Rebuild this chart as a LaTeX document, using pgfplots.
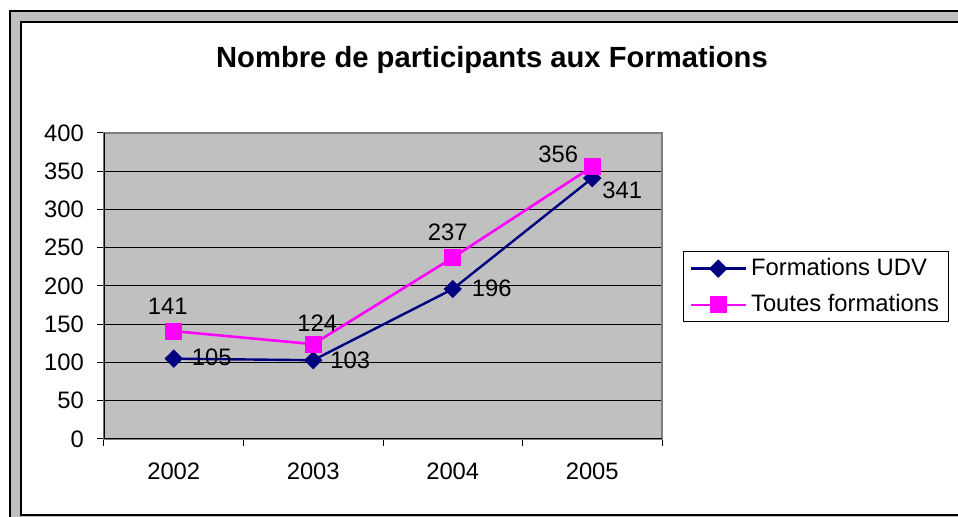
\documentclass[border=0pt]{standalone}
\usepackage{pgfplots}
\pgfplotsset{compat=1.18}
\usepackage{fontspec}
\setmainfont{Liberation Sans}
\definecolor{navyS}{HTML}{000080}
\definecolor{magS}{HTML}{FF00FF}
\definecolor{plotgray}{HTML}{C0C0C0}
\definecolor{bordergray}{HTML}{808080}
\newcommand{\fs}{\fontsize{11.9}{14}\selectfont}
\begin{document}
\begin{tikzpicture}
\useasboundingbox (-52pt,-39pt) rectangle (427pt,219.5pt);
\begin{scope}
\clip (-52pt,-39pt) rectangle (427pt,219.5pt);
\fill[white] (-52pt,-39pt) rectangle (427pt,219.5pt);
\filldraw[fill=plotgray,draw=black,line width=1pt] (-46.75pt,214pt) rectangle (440pt,-60pt);
\filldraw[fill=white,draw=black,line width=1pt] (-41.5pt,208.5pt) rectangle (440pt,-38pt);
\end{scope}
\begin{axis}[
  at={(0,0)}, anchor=south west,
  scale only axis, width=279pt, height=153pt,
  xmin=-0.5, xmax=3.5, ymin=0, ymax=400,
  xtick={-0.5,0.5,1.5,2.5,3.5},
  xticklabels={2002,2003,2004,2005,{}},
  x tick label style={xshift=34.875pt, yshift=-5pt, font=\fs},
  ytick={0,50,...,400},
  y tick label style={xshift=-3pt, font=\fs},
  /pgf/number format/assume math mode=true,
  xtick pos=bottom, ytick pos=left,
  tick align=outside, major tick length=3.5pt,
  tick style={black, line width=0.5pt},
  ymajorgrids, grid style={black, line width=0.5pt},
  axis background/.style={fill=plotgray},
  axis line style={draw=bordergray, line width=1pt},
  title={Nombre de participants aux Formations},
  title style={at={(0.6953,1.1732)}, anchor=base, font=\bfseries\fontsize{14.6}{17}\selectfont},
  legend style={at={(1.0376,0.6144)}, anchor=north west, draw=black, line width=0.5pt, fill=white, font=\fs, row sep=4pt, inner xsep=3pt, inner ysep=1.5pt},
  legend cell align=left,
  legend image code/.code={\draw[mark repeat=2,mark phase=2,#1] plot coordinates {(0pt,0pt) (13.75pt,0pt) (27.5pt,0pt)};},
]
\draw[black, line width=0.6pt] (rel axis cs:0,0) -- (rel axis cs:0,1);
\draw[black, line width=0.6pt] (rel axis cs:0,0) -- (rel axis cs:1,0);
\addplot[color=navyS, line width=1.2pt, mark=square*, mark size=2.65pt, mark options={rotate=45, solid, fill=navyS}]
  coordinates {(0,105) (1,103) (2,196) (3,341)};
\addlegendentry{Formations UDV}
\addplot[color=magS, line width=1.3pt, mark=square*, mark size=3.6pt, mark options={solid, fill=magS}]
  coordinates {(0,141) (1,124) (2,237) (3,356)};
\addlegendentry{Toutes formations}
\node[font=\fs, xshift=19pt, yshift=0.5pt] at (axis cs:0,105) {105};
\node[font=\fs, xshift=18.5pt, yshift=0pt] at (axis cs:1,103) {103};
\node[font=\fs, xshift=19.5pt, yshift=0.5pt] at (axis cs:2,196) {196};
\node[font=\fs, xshift=15pt, yshift=-6pt] at (axis cs:3,341) {341};
\node[font=\fs, xshift=-3pt, yshift=12.5pt] at (axis cs:0,141) {141};
\node[font=\fs, xshift=2pt, yshift=10.5pt] at (axis cs:1,124) {124};
\node[font=\fs, xshift=-2.5pt, yshift=12.5pt] at (axis cs:2,237) {237};
\node[font=\fs, xshift=-17pt, yshift=6pt] at (axis cs:3,356) {356};
\end{axis}
\end{tikzpicture}
\end{document}
